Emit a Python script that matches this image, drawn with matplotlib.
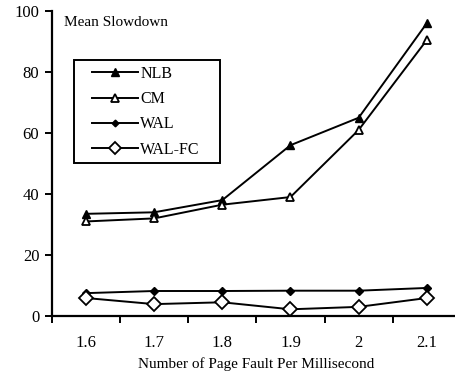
import matplotlib.pyplot as plt
from matplotlib.patches import Rectangle
import numpy as np

plt.rcParams['font.family'] = ['Liberation Serif', 'DejaVu Serif']

faults = ["1.6", "1.7", "1.8", "1.9", "2", "2.1"]
nlb = [33.5, 34, 38, 56, 65, 96]
cm = [31, 32, 36.5, 39, 61, 90.5]
wal = [7.5, 8.2, 8.2, 8.3, 8.3, 9.2]
wal_fc = [5.9, 3.9, 4.5, 2.2, 3.0, 5.9]

x = np.arange(len(faults))

fig = plt.figure(figsize=(4.55, 3.72), dpi=100)
ax = fig.add_axes([0.114, 0.1505, 0.899, 0.82])

lw = 1.4
ax.plot(x, nlb, color="black", lw=lw, marker="^", ms=6, mfc="black", mec="black", label="NLB")
ax.plot(x, cm, color="black", lw=lw, marker="^", ms=6, mfc="white", mec="black", mew=1.3, label="CM")
ax.plot(x, wal, color="black", lw=lw, marker="D", ms=4, mfc="black", mec="black", label="WAL")
ax.plot(x, wal_fc, color="black", lw=lw, marker="D", ms=7, mfc="white", mec="black", mew=1.3, label="WAL-FC")

ax.set_xlim(-0.5, 5.5)
ax.set_ylim(0, 100)
ax.set_yticks([0, 20, 40, 60, 80, 100])
ax.set_xticks(x)
ax.set_xticklabels(faults)
ax.set_xticks(np.arange(-0.5, 6, 1), minor=True)
ax.tick_params(axis="x", which="major", length=0, pad=14, labelsize=12)
ax.tick_params(axis="x", which="minor", length=5, width=1.4, direction="out")
ax.tick_params(axis="y", length=5, width=1.4, direction="out", labelsize=12, pad=4)

for s in ["top", "right"]:
    ax.spines[s].set_visible(False)
for s in ["left", "bottom"]:
    ax.spines[s].set_linewidth(1.6)

ax.set_xlabel("Number of Page Fault Per Millisecond", fontsize=11, labelpad=4)
ax.text(0.03, 0.985, "Mean Slowdown", transform=ax.transAxes, fontsize=11, va="top")

# legend entries without frame, box drawn separately for wider side padding
ax.legend(loc="upper left", bbox_to_anchor=(0.098, 0.82), fontsize=11.5,
          frameon=False, handlelength=2.9, handletextpad=0.12,
          labelspacing=0.58, borderpad=0, borderaxespad=0, markerscale=0.85)
ax.add_patch(Rectangle((0.054, 0.502), 0.357, 0.337, transform=ax.transAxes,
                       fill=False, edgecolor="black", lw=1.4, zorder=5))

fig.savefig("out.png", dpi=100)
